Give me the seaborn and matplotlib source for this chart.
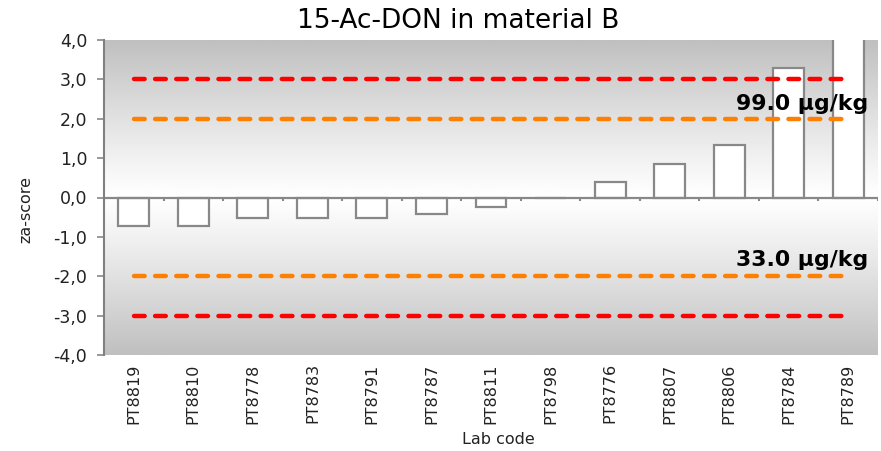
import numpy as np
import pandas as pd
import matplotlib
matplotlib.use("Agg")
import matplotlib.pyplot as plt
from matplotlib.ticker import FuncFormatter
import seaborn as sns

# Lab codes and their za-scores
lab_codes = ["PT8819", "PT8810", "PT8778", "PT8783", "PT8791", "PT8787", "PT8811",
             "PT8798", "PT8776", "PT8807", "PT8806", "PT8784", "PT8789"]
za_scores = [-0.73, -0.73, -0.53, -0.52, -0.51, -0.41, -0.24,
             -0.02, 0.40, 0.86, 1.34, 3.28, 5.10]

# Limits and their concentration labels
warn_limits = [2.0, -2.0]
action_limits = [3.0, -3.0]
upper_label = "99.0 µg/kg"
lower_label = "33.0 µg/kg"
y_ticks = [-4, -3, -2, -1, 0, 1, 2, 3, 4]

df = pd.DataFrame({"lab": lab_codes, "score": za_scores})

sns.set_theme(style="white")
plt.rcParams["font.family"] = ["DejaVu Sans"]

W, H = 881, 451
fig = plt.figure(figsize=(W / 100, H / 100), dpi=100)
ax = fig.add_axes([104 / W, 1 - 355 / H, 774 / W, 315 / H])

n = len(lab_codes)
ax.set_xlim(-0.5, n - 0.5)
ax.set_ylim(-4, 4)

# Background gradient: grey at the extremes, white at zero
yy = np.linspace(4, -4, 400)
shade = 1.0 - 0.25 * (np.abs(yy) / 4.0) ** 1.1
grad = np.repeat(shade[:, None], 2, axis=1)
ax.imshow(grad, cmap="gray", vmin=0, vmax=1, aspect="auto",
          extent=(-0.5, n - 0.5, -4, 4), zorder=0, interpolation="bicubic")

sns.barplot(data=df, x="lab", y="score", ax=ax, color="white",
            edgecolor="#888888", linewidth=1.6, width=0.52, saturation=1,
            zorder=3)
for p in ax.patches:
    p.set_facecolor("white")
ax.set_xlabel("")
ax.set_ylabel("")

# Zero line with category separators
ax.axhline(0, color="#888888", lw=1.6, zorder=4)
ax.vlines(np.arange(-0.5, n, 1.0), -0.09, 0, color="#888888", lw=1.5, zorder=4)

# Limit lines spanning first to last lab
dash = (0, (2.4, 2.35))
for lim in action_limits:
    ax.hlines(lim, 0, n - 1, colors="#ff0000", lw=3.2, linestyles=dash,
              capstyle="round", zorder=5)
for lim in warn_limits:
    ax.hlines(lim, 0, n - 1, colors="#ff8000", lw=3.2, linestyles=dash,
              capstyle="round", zorder=5)

ax.text(n - 0.66, 2.38, upper_label, ha="right", va="center", fontsize=15.8,
        fontweight="bold", color="black", zorder=6)
ax.text(n - 0.66, -1.58, lower_label, ha="right", va="center", fontsize=15.8,
        fontweight="bold", color="black", zorder=6)

ax.set_yticks(y_ticks)
ax.yaxis.set_major_formatter(FuncFormatter(lambda v, _: f"{v:.1f}".replace(".", ",")))
ax.tick_params(axis="y", direction="out", length=5, width=1.2, color="#888888",
               labelsize=12.5, labelcolor="#222222", pad=7, left=True)
ax.tick_params(axis="x", length=0, labelsize=11.5, labelcolor="#222222",
               rotation=90, pad=6)

for side in ["top", "right", "bottom"]:
    ax.spines[side].set_visible(False)
ax.spines["left"].set_color("#808080")
ax.spines["left"].set_linewidth(1.5)
ax.spines["left"].set_zorder(6)

fig.text(458 / W, 1 - 21 / H, "15-Ac-DON in material B", fontsize=19,
         ha="center", va="center", color="black")
fig.text(26 / W, 1 - 210 / H, "za-score", fontsize=11.5, rotation=90,
         ha="center", va="center", color="#222222")
fig.text(498 / W, 1 - 440 / H, "Lab code", fontsize=11.5,
         ha="center", va="center", color="#222222")

fig.savefig("out.png", dpi=100)
